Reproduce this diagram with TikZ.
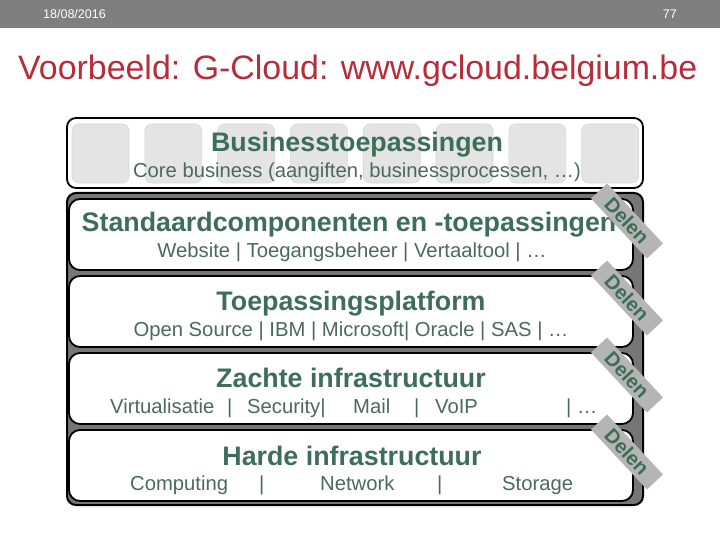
\documentclass[tikz,border=0pt]{standalone}
\usepackage{fontspec}
\setmainfont{Liberation Sans}
\definecolor{hdr}{RGB}{127,127,127}
\definecolor{ttl}{RGB}{183,44,58}
\definecolor{grn}{RGB}{62,110,91}
\definecolor{subc}{RGB}{75,105,95}
\definecolor{sq}{RGB}{228,228,228}
\definecolor{sqb}{RGB}{214,214,214}
\definecolor{darkc}{RGB}{118,118,118}
\definecolor{band}{RGB}{181,181,181}
\begin{document}
\begin{tikzpicture}[x=1pt,y=-1pt,
  head/.style={anchor=base, text=grn, font=\fontsize{26.8}{30}\selectfont\bfseries, inner sep=0},
  subt/.style={anchor=base, text=subc, font=\fontsize{20.25}{24}\selectfont, inner sep=0},
  subw/.style={subt, anchor=base west},
  layer/.style={draw=black, line width=1.8pt, fill=white, rounded corners=11pt},
  tile/.style={draw=sqb, fill=sq, line width=0.6pt, rounded corners=7pt},
  delen/.style={fill=band, rotate=-47, minimum width=82pt, minimum height=22pt, inner sep=0, text=grn, font=\fontsize{20}{22}\selectfont\bfseries}
]
\useasboundingbox (0,0) rectangle (720,540);
% header
\fill[hdr] (0,0) rectangle (720,28);
\node[anchor=base west, text=white, font=\fontsize{12.5}{14}\selectfont, inner sep=0] (date) at (43,19) {18/08/2016};
\node[anchor=base east, text=white, font=\fontsize{12.5}{14}\selectfont, inner sep=0] (page) at (677,19) {77};
\node[anchor=base west, text=ttl, font=\fontsize{33.9}{38}\selectfont, inner sep=0] (title) at (18,80) {Voorbeeld: G-Cloud: www.gcloud.belgium.be};

% top box
\draw[draw=black, line width=1.8pt, fill=white, rounded corners=9pt] (67,118) rectangle (643,188);
\foreach \i in {0,...,7} \draw[tile] ({72+72.8*\i},124) rectangle +(57,59);
\node[head] (busiT) at (357,152) {Businesstoepassingen};
\node[subt] (busiS) at (357,178) {Core business (aangiften, businessprocessen, …)};

% dark container
\draw[draw=black, line width=2pt, fill=darkc, rounded corners=9pt] (67,193) rectangle (643,505);
\draw[layer] (69,199) rectangle (633,270);
\draw[layer] (69,276) rectangle (633,347);
\draw[layer] (69,353) rectangle (633,424);
\draw[layer] (69,430) rectangle (633,501);

\node[head] (stdT) at (349,232) {Standaardcomponenten en -toepassingen};
\node[subt] (stdS) at (352,258) {Website | Toegangsbeheer | Vertaaltool | …};

\node[head] (tpT) at (351,310) {Toepassingsplatform};
\node[subt] (tpS) at (351,336) {Open Source | IBM | Microsoft| Oracle | SAS | …};

\node[head] (zaT) at (351,387) {Zachte infrastructuur};
\node[subw] (za1) at (110,413) {Virtualisatie};
\node[subw] (za2) at (227,413) {|};
\node[subw] (za3) at (247,413) {Security|};
\node[subw] (za4) at (353,413) {Mail};
\node[subw] (za5) at (414,413) {|};
\node[subw] (za6) at (435,413) {VoIP};
\node[subw] (za7) at (566,413) {| …};

\node[head] (haT) at (352,465) {Harde infrastructuur};
\node[subw] (ha1) at (130,490) {Computing};
\node[subw] (ha2) at (259,490) {|};
\node[subw] (ha3) at (320,490) {Network};
\node[subw] (ha4) at (437,490) {|};
\node[subw] (ha5) at (502,490) {Storage};

% Delen bands
\node[delen] (d1) at (627,221) {Delen};
\node[delen] (d2) at (627,298) {Delen};
\node[delen] (d3) at (627,375) {Delen};
\node[delen] (d4) at (627,452) {Delen};
\end{tikzpicture}
\end{document}
